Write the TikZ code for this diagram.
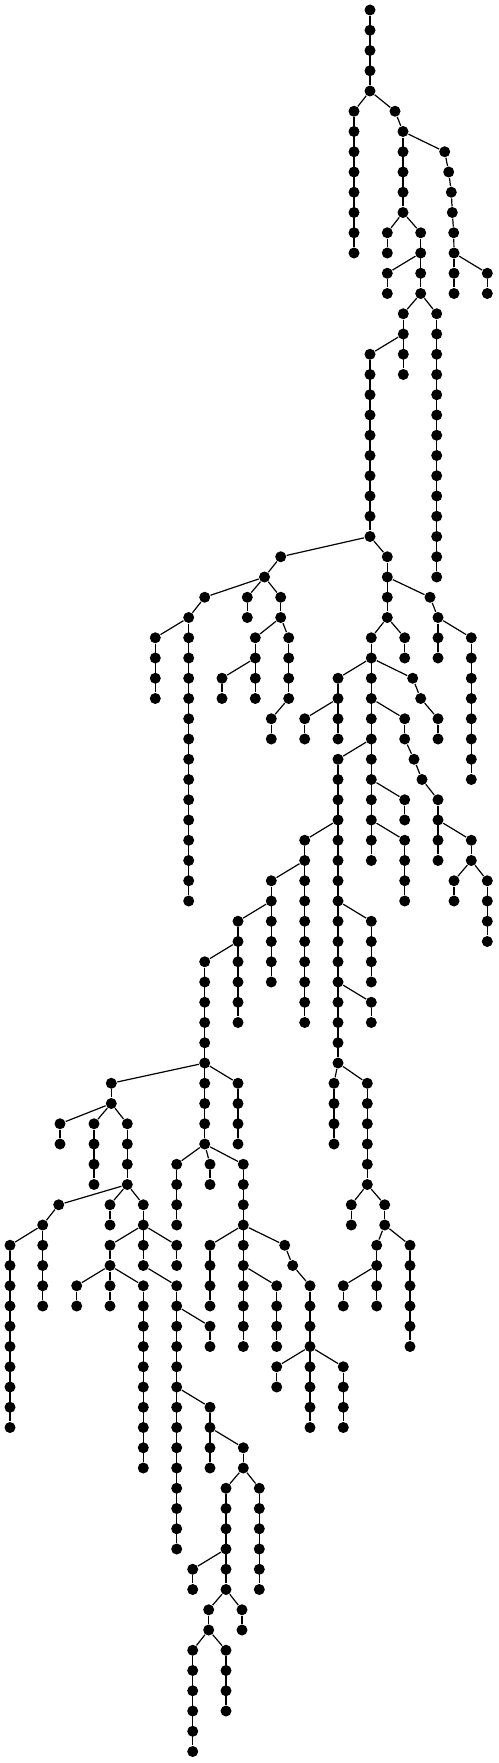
\documentclass[tikz,border=0pt]{standalone}
\begin{document}
\begin{tikzpicture}[x=1pt,y=1pt,line width=1.2pt,solmu/.style={circle,fill=black,inner sep=0pt,minimum size=11pt}]
\useasboundingbox (0,0) rectangle (498,-1763);
\newcommand\ketju[4]{
\foreach \k in {#3,...,#4} \node[solmu] (#1-\k) at (#2,{-10-20.25*\k}) {};
\ifnum#3<#4 \draw (#1-#3) -- (#1-#4);\fi
}
\ketju{a}{370}{0}{4}
\ketju{b}{354}{5}{12}
\ketju{d}{395}{5}{5}
\ketju{c}{403}{6}{10}
\foreach \k/\x in {7/444.7,8/448.7,9/451.3,10/452.3,11/453.7,12/454,13/454,14/454}
  \node[solmu] (h-\k) at (\x,{-10-20.25*\k}) {};
\ketju{i}{487.3}{13}{14}
\ketju{e}{387.3}{11}{12}
\ketju{f}{420.7}{11}{14}
\ketju{g}{387.3}{13}{14}
\ketju{j}{403.3}{15}{18}
\ketju{k}{436.7}{15}{28}
\ketju{l}{370}{17}{26}
\ketju{m}{280.7}{27}{27}
\ketju{p}{264.5}{28}{28}
\ketju{q}{387.3}{27}{30}
\ketju{r}{204.7}{29}{29}
\ketju{s}{188.7}{30}{44}
\ketju{t}{155.3}{31}{34}
\ketju{u}{247.3}{29}{30}
\ketju{v}{280.7}{29}{30}
\ketju{w}{255.3}{31}{34}
\ketju{x}{222}{33}{34}
\ketju{y}{288.7}{31}{34}
\ketju{z}{271.3}{35}{36}
\ketju{n1}{430}{29}{29}
\ketju{n2}{438}{30}{32}
\ketju{n3}{471.3}{31}{38}
\ketju{n4}{404.7}{31}{32}
\ketju{n5}{371.3}{31}{42}
\ketju{n6}{338}{33}{36}
\ketju{n7}{304.7}{35}{36}
\ketju{n8}{412.7}{33}{33}
\ketju{n9}{420.7}{34}{34}
\ketju{n10}{438}{35}{36}
\ketju{n11}{404.7}{35}{36}
\ketju{n12}{414}{37}{37}
\ketju{n13}{422}{38}{38}
\ketju{n14}{438}{39}{42}
\ketju{n15}{471.3}{41}{42}
\ketju{n16}{454}{43}{44}
\ketju{n17}{487.3}{43}{46}
\ketju{n18}{404.7}{39}{40}
\ketju{n19}{404.7}{41}{44}
\ketju{n20}{338}{37}{52}
\ketju{n21}{304.7}{41}{50}
\ketju{n22}{371.3}{45}{48}
\ketju{n23}{371.3}{49}{50}
\ketju{n24}{334}{53}{56}
\ketju{n25}{367.3}{53}{58}
\ketju{n26}{271.3}{43}{48}
\ketju{n27}{238}{45}{50}
\ketju{n28}{204.7}{47}{56}
\ketju{n29}{238}{53}{56}
\ketju{n30}{111.3}{53}{54}
\ketju{n31}{351.3}{59}{60}
\ketju{n32}{384.7}{59}{60}
\ketju{n33}{376.7}{61}{64}
\ketju{n34}{410}{61}{66}
\ketju{n35}{343.3}{63}{64}
\ketju{n36}{176.7}{57}{60}
\ketju{n37}{210}{57}{58}
\ketju{n38}{243.3}{57}{66}
\ketju{n39}{210}{61}{64}
\ketju{n40}{284.7}{61}{61}
\ketju{n41}{292.7}{62}{62}
\ketju{n42}{310}{63}{70}
\ketju{n43}{276.7}{63}{66}
\ketju{n44}{276.7}{67}{68}
\ketju{n45}{343.3}{67}{70}
\ketju{n46}{60}{55}{56}
\ketju{n47}{94}{55}{58}
\ketju{n48}{127.3}{55}{58}
\ketju{n49}{58.7}{59}{59}
\ketju{n50}{42.7}{60}{64}
\ketju{n51}{10}{61}{70}
\ketju{n52}{110}{59}{60}
\ketju{n53}{143.3}{59}{62}
\ketju{n54}{110}{61}{62}
\ketju{n55}{176.7}{61}{62}
\ketju{n56}{76.7}{63}{64}
\ketju{n57}{110}{63}{64}
\ketju{n58}{143.3}{63}{72}
\ketju{n59}{176.7}{63}{76}
\ketju{n60}{210}{65}{66}
\ketju{n61}{210}{69}{72}
\ketju{n62}{243.3}{71}{72}
\ketju{n63}{226}{73}{78}
\ketju{n64}{259.3}{73}{78}
\ketju{n65}{192.7}{77}{78}
\ketju{n66}{208.7}{79}{80}
\ketju{n67}{242}{79}{80}
\ketju{n68}{192.7}{81}{86}
\ketju{n69}{226}{81}{84}
\foreach \a/\b in {a-4/b-5,a-4/d-5,d-5/c-6,c-6/h-7,h-7/h-8,h-8/h-9,h-9/h-10,h-10/h-11,h-11/h-12,h-12/h-13,h-13/h-14,
  h-12/i-13,c-10/e-11,c-10/f-11,f-12/g-13,f-14/j-15,f-14/k-15,j-16/l-17,l-26/m-27,l-26/q-27,m-27/p-28,
  p-28/r-29,p-28/u-29,p-28/v-29,r-29/s-30,s-30/t-31,v-30/w-31,v-30/y-31,w-32/x-33,y-34/z-35,
  q-28/n1-29,n1-29/n2-30,n2-30/n3-31,q-30/n4-31,q-30/n5-31,n5-32/n6-33,n5-32/n8-33,n8-33/n9-34,n9-34/n10-35,
  n6-34/n7-35,n5-34/n11-35,n11-36/n12-37,n12-37/n13-38,n13-38/n14-39,n14-40/n15-41,n15-42/n16-43,n15-42/n17-43,
  n5-36/n20-37,n5-38/n18-39,n5-40/n19-41,n20-40/n21-41,n20-44/n22-45,n20-48/n23-49,n20-52/n24-53,n20-52/n25-53,
  n21-42/n26-43,n26-44/n27-45,n27-46/n28-47,n28-52/n29-53,n28-52/n30-53,n25-58/n31-59,n25-58/n32-59,
  n32-60/n33-61,n32-60/n34-61,n33-62/n35-63,n28-56/n36-57,n28-56/n37-57,n28-56/n38-57,n38-60/n39-61,
  n38-60/n40-61,n40-61/n41-62,n41-62/n42-63,n38-62/n43-63,n42-66/n44-67,n42-66/n45-67,
  n30-54/n46-55,n30-54/n47-55,n30-54/n48-55,n48-58/n49-59,n49-59/n50-60,n50-60/n51-61,n48-58/n52-59,
  n48-58/n53-59,n53-60/n54-61,n53-60/n55-61,n54-62/n56-63,n54-62/n57-63,n54-62/n58-63,n53-62/n59-63,
  n59-64/n60-65,n59-68/n61-69,n61-70/n62-71,n62-72/n63-73,n62-72/n64-73,n63-76/n65-77,n63-78/n66-79,
  n63-78/n67-79,n66-80/n68-81,n66-80/n69-81}
  \draw (\a) -- (\b);
\end{tikzpicture}
\end{document}
